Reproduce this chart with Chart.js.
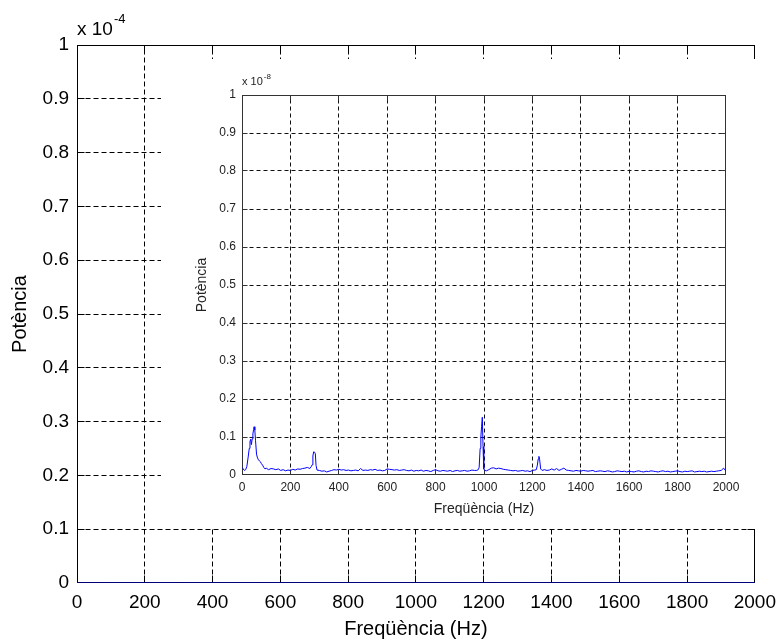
<!DOCTYPE html>
<html>
<head>
<meta charset="utf-8">
<script src="https://cdn.jsdelivr.net/npm/chart.js@4"></script>
<style>
  html, body { margin: 0; padding: 0; background: #fff; }
  #wrap { position: relative; width: 784px; height: 641px; overflow: hidden; }
  #main { position: absolute; left: 0; top: 0; }
  #insetBox { position: absolute; left: 161px; top: 59px; width: 623px; height: 470px; background: #fff; }
</style>
</head>
<body>
<div id="wrap">
  <canvas id="main" width="784" height="641"></canvas>
  <div id="insetBox"><canvas id="inset" width="623" height="470"></canvas></div>
</div>
<script>
// Power spectrum: frequency (Hz) and power in units of 1e-8
const freqHz = [
  0, 5, 10, 15, 20, 25, 30, 33, 36, 39,
  42, 45, 48, 50, 53, 56, 60, 64, 68, 72,
  76, 80, 85, 90, 95, 100, 110, 120, 130, 140,
  150, 160, 170, 180, 190, 200, 210, 220, 230, 240,
  250, 260, 270, 280, 286, 290, 293, 296, 300, 303,
  306, 310, 320, 330, 340, 350, 360, 370, 380, 390,
  400, 410, 420, 430, 440, 450, 460, 470, 480, 490,
  500, 510, 520, 530, 540, 550, 560, 570, 580, 590,
  600, 610, 620, 630, 640, 650, 660, 670, 680, 690,
  700, 710, 720, 730, 740, 750, 760, 770, 780, 790,
  800, 810, 820, 830, 840, 850, 860, 870, 880, 890,
  900, 910, 920, 930, 940, 950, 960, 970, 976, 980,
  984, 987, 990, 993, 996, 999, 1003, 1010, 1020, 1030,
  1040, 1050, 1060, 1070, 1080, 1090, 1100, 1110, 1120, 1130,
  1140, 1150, 1160, 1170, 1180, 1190, 1200, 1210, 1216, 1220,
  1224, 1227, 1230, 1234, 1240, 1250, 1260, 1270, 1280, 1290,
  1300, 1310, 1320, 1330, 1340, 1350, 1360, 1370, 1380, 1390,
  1400, 1410, 1420, 1430, 1440, 1450, 1460, 1470, 1480, 1490,
  1500, 1510, 1520, 1530, 1540, 1550, 1560, 1570, 1580, 1590,
  1600, 1610, 1620, 1630, 1640, 1650, 1660, 1670, 1680, 1690,
  1700, 1710, 1720, 1730, 1740, 1750, 1760, 1770, 1780, 1790,
  1800, 1810, 1820, 1830, 1840, 1850, 1860, 1870, 1880, 1890,
  1900, 1910, 1920, 1930, 1940, 1950, 1960, 1970, 1980, 1990,
  2000
];
const powerE8 = [
  0.020, 0.016, 0.012, 0.014, 0.022, 0.045, 0.070, 0.088, 0.094, 0.080,
  0.095, 0.108, 0.120, 0.127, 0.118, 0.090, 0.055, 0.045, 0.040, 0.037,
  0.035, 0.030, 0.026, 0.020, 0.016, 0.018, 0.014, 0.017, 0.016, 0.014,
  0.016, 0.012, 0.014, 0.011, 0.013, 0.012, 0.015, 0.013, 0.016, 0.015,
  0.017, 0.018, 0.020, 0.017, 0.022, 0.027, 0.050, 0.061, 0.060, 0.056,
  0.025, 0.013, 0.012, 0.010, 0.011, 0.008, 0.010, 0.012, 0.014, 0.013,
  0.015, 0.013, 0.014, 0.012, 0.013, 0.011, 0.012, 0.013, 0.011, 0.017,
  0.012, 0.013, 0.012, 0.014, 0.013, 0.015, 0.012, 0.013, 0.011, 0.012,
  0.016, 0.015, 0.014, 0.013, 0.014, 0.012, 0.013, 0.014, 0.012, 0.011,
  0.013, 0.010, 0.012, 0.011, 0.013, 0.010, 0.012, 0.011, 0.009, 0.012,
  0.014, 0.011, 0.010, 0.012, 0.011, 0.010, 0.012, 0.009, 0.011, 0.012,
  0.010, 0.011, 0.012, 0.010, 0.011, 0.013, 0.012, 0.012, 0.014, 0.020,
  0.070, 0.100, 0.128, 0.152, 0.075, 0.016, 0.012, 0.011, 0.014, 0.018,
  0.019, 0.016, 0.018, 0.017, 0.015, 0.014, 0.013, 0.012, 0.011, 0.012,
  0.010, 0.011, 0.012, 0.010, 0.011, 0.009, 0.012, 0.013, 0.014, 0.024,
  0.042, 0.049, 0.040, 0.016, 0.012, 0.014, 0.012, 0.013, 0.016, 0.013,
  0.017, 0.012, 0.015, 0.018, 0.013, 0.012, 0.011, 0.010, 0.012, 0.011,
  0.010, 0.012, 0.011, 0.010, 0.011, 0.012, 0.009, 0.010, 0.011, 0.010,
  0.009, 0.011, 0.010, 0.008, 0.009, 0.011, 0.010, 0.009, 0.010, 0.008,
  0.010, 0.009, 0.008, 0.010, 0.011, 0.009, 0.008, 0.010, 0.009, 0.011,
  0.010, 0.009, 0.008, 0.010, 0.011, 0.009, 0.010, 0.008, 0.009, 0.010,
  0.011, 0.009, 0.008, 0.010, 0.009, 0.010, 0.011, 0.008, 0.009, 0.010,
  0.009, 0.010, 0.008, 0.009, 0.010, 0.009, 0.010, 0.011, 0.012, 0.018,
  0.010
];

// Tick labels
const xTickLabels = ['0', '200', '400', '600', '800', '1000', '1200', '1400', '1600', '1800', '2000'];
const yTickLabels = ['0', '0.1', '0.2', '0.3', '0.4', '0.5', '0.6', '0.7', '0.8', '0.9', '1'];

// Axis text
const xTitle = 'Freqüència (Hz)';
const yTitle = 'Potència';
const mainExponent = '-4';
const insetExponent = '-8';

// The main axes span 0..1e-4; data are stored in 1e-8 units, so the range is 0..1e4
const MAIN_Y_MAX = 10000;
const INSET_Y_MAX = 1;

const FONT = '"Liberation Sans", Arial, Helvetica, sans-serif';
const points = freqHz.map((f, i) => ({ x: f, y: powerE8[i] }));

const clamp = (v, lo, hi) => Math.min(hi, Math.max(lo, v));

// Dashed grid, box, inward ticks and the "x 10^n" multiplier, MATLAB style
const matlabAxes = {
  id: 'matlabAxes',
  beforeDatasetsDraw(chart, args, o) {
    const { ctx, chartArea: a, scales } = chart;
    const L = Math.round(a.left) + 0.5, R = Math.round(a.right) - 0.5;
    const T = Math.round(a.top) + 0.5, B = Math.round(a.bottom) - 0.5;
    const xs = scales.x.ticks.map(t => clamp(Math.floor(scales.x.getPixelForValue(t.value)) + 0.5, L, R));
    const ys = scales.y.ticks.map(t => clamp(Math.floor(scales.y.getPixelForValue(t.value)) + 0.5, T, B));
    ctx.save();
    ctx.lineWidth = 1;

    // grid
    ctx.strokeStyle = o.gridColor;
    ctx.setLineDash(o.dash);
    ctx.beginPath();
    xs.forEach(px => { ctx.moveTo(px, B); ctx.lineTo(px, T); });
    ys.forEach(py => { ctx.moveTo(L, py); ctx.lineTo(R, py); });
    ctx.stroke();

    // ticks and box
    ctx.setLineDash([]);
    ctx.strokeStyle = o.color;
    ctx.beginPath();
    xs.forEach(px => {
      ctx.moveTo(px, B); ctx.lineTo(px, B - o.tickLen);
      ctx.moveTo(px, T); ctx.lineTo(px, T + o.tickLen);
    });
    ys.forEach(py => {
      ctx.moveTo(L, py); ctx.lineTo(L + o.tickLen, py);
      ctx.moveTo(R, py); ctx.lineTo(R - o.tickLen, py);
    });
    ctx.stroke();
    ctx.strokeRect(L, T, R - L, B - T);
    ctx.restore();
  },
  afterDraw(chart, args, o) {
    const { ctx, chartArea: a } = chart;
    ctx.save();
    ctx.fillStyle = o.textColor;
    ctx.textAlign = 'left';
    ctx.textBaseline = 'alphabetic';
    ctx.font = o.fontSize + 'px ' + FONT;
    const base = 'x 10';
    const x0 = a.left + o.expDx, y0 = a.top - o.expDy;
    ctx.fillText(base, x0, y0);
    const w = ctx.measureText(base).width;
    ctx.font = o.supSize + 'px ' + FONT;
    ctx.fillText(o.exponent, x0 + w + 1, y0 - o.supRise);
    ctx.restore();
  }
};

function makeScales(cfg) {
  return {
    x: {
      type: 'linear', min: 0, max: 2000,
      ticks: {
        stepSize: 200, autoSkip: false, maxRotation: 0,
        padding: cfg.xPad, color: cfg.textColor,
        font: { family: FONT, size: cfg.tickSize },
        callback: (v, i) => xTickLabels[i]
      },
      grid: { display: false, drawTicks: false },
      border: { display: false },
      title: {
        display: true, text: xTitle, color: cfg.textColor,
        font: { family: FONT, size: cfg.titleSize },
        padding: { top: 0, bottom: cfg.xTitlePad }
      },
      afterFit: s => { s.height = cfg.xAxisH; }
    },
    y: {
      type: 'linear', min: 0, max: cfg.yMax,
      ticks: {
        stepSize: cfg.yMax / 10, autoSkip: false,
        padding: cfg.yPad, color: cfg.textColor,
        font: { family: FONT, size: cfg.tickSize },
        callback: (v, i) => yTickLabels[i]
      },
      grid: { display: false, drawTicks: false },
      border: { display: false },
      title: {
        display: true, text: yTitle, color: cfg.textColor,
        font: { family: FONT, size: cfg.titleSize },
        padding: { top: cfg.yTitlePad, bottom: 0 }
      },
      afterFit: s => { s.width = cfg.yAxisW; }
    }
  };
}

function lineDataset() {
  return {
    data: points,
    borderColor: '#0000ff',
    borderWidth: 1,
    pointRadius: 0,
    tension: 0,
    fill: false
  };
}

// Main axes
new Chart(document.getElementById('main'), {
  type: 'line',
  data: { datasets: [lineDataset()] },
  options: {
    responsive: false,
    animation: false,
    layout: { padding: { left: 0, right: 27, top: 45, bottom: 0 } },
    plugins: {
      legend: { display: false },
      tooltip: { enabled: false },
      matlabAxes: {
        color: '#000', gridColor: '#000', dash: [5, 3], textColor: '#000', tickLen: 7,
        fontSize: 19, supSize: 13, supRise: 12, expDx: 0, expDy: 10,
        exponent: mainExponent
      }
    },
    scales: makeScales({
      yMax: MAIN_Y_MAX, tickSize: 19, titleSize: 20, textColor: '#000',
      xPad: 8, yPad: 8,
      xTitlePad: 0, yTitlePad: 8, xAxisH: 58, yAxisW: 77
    })
  },
  plugins: [matlabAxes]
});

// Inset axes
new Chart(document.getElementById('inset'), {
  type: 'line',
  data: { datasets: [lineDataset()] },
  options: {
    responsive: false,
    animation: false,
    layout: { padding: { left: 0, right: 58, top: 36, bottom: 0 } },
    plugins: {
      legend: { display: false },
      tooltip: { enabled: false },
      matlabAxes: {
        color: '#333', gridColor: '#111', dash: [4, 3], textColor: '#222', tickLen: 5,
        fontSize: 11, supSize: 8, supRise: 6, expDx: 0, expDy: 10,
        exponent: insetExponent
      }
    },
    scales: makeScales({
      yMax: INSET_Y_MAX, tickSize: 12, titleSize: 14, textColor: '#222',
      xPad: 5, yPad: 6,
      xTitlePad: 11, yTitlePad: 33, xAxisH: 54, yAxisW: 81
    })
  },
  plugins: [matlabAxes]
});
</script>
</body>
</html>
